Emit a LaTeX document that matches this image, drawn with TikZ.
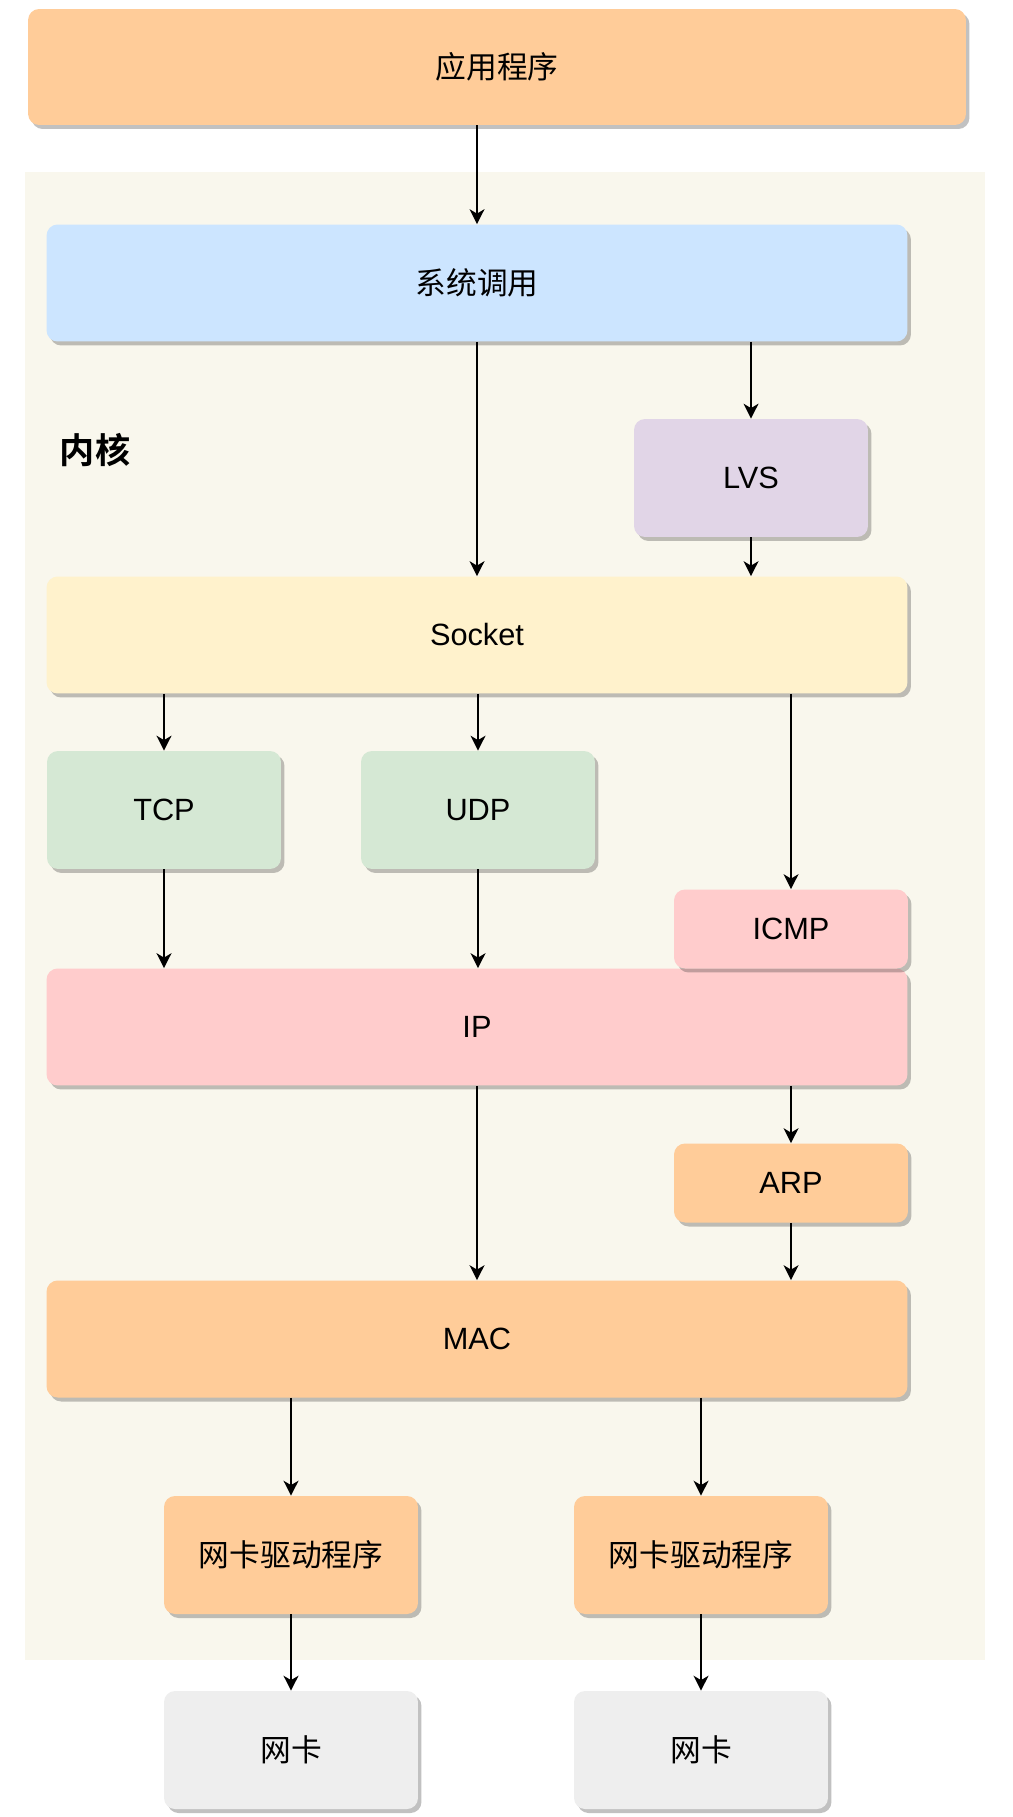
\documentclass[tikz,border=0pt]{standalone}
\usepackage{fontspec}
\setmainfont{Liberation Sans}
\newfontfamily\cjk{Noto Sans CJK SC}[BoldFont=Noto Sans CJK SC Bold]
\usepackage{tikz}
\usetikzlibrary{arrows.meta,shadows}

\definecolor{appOrange}{HTML}{FFCC99}
\definecolor{sysBlue}{HTML}{CCE5FF}
\definecolor{lvsPurple}{HTML}{E1D5E7}
\definecolor{sockYellow}{HTML}{FFF2CC}
\definecolor{protoGreen}{HTML}{D5E8D4}
\definecolor{ipPink}{HTML}{FFCCCC}
\definecolor{nicGray}{HTML}{EEEEEE}
\definecolor{kernelBg}{HTML}{F9F7ED}

\begin{document}
\begin{tikzpicture}[x=0.02cm, y=-0.02cm, >={Stealth[length=8.5pt,width=8.5pt,inset=2.5pt]},
    box/.style={rounded corners=0.22cm, fill=#1, inner sep=0pt,
        drop shadow={shadow xshift=0.07cm, shadow yshift=-0.08cm, opacity=0.3, fill=black!80},
        font=\fontsize{17.5}{21}\selectfont},
    layer/.style={minimum width=17.22cm, minimum height=2.34cm},
    unit/.style={minimum width=4.68cm, minimum height=2.36cm},
    flat/.style={minimum width=4.68cm, minimum height=1.58cm},
    drv/.style={minimum width=5.08cm, minimum height=2.36cm},
    arr/.style={->, line width=1pt}]
        \useasboundingbox (0,0) rectangle (1012,1817);

        % --- Nền vùng kernel ---
        \fill[kernelBg] (25,172) rectangle (985,1660);
        \node[font=\cjk\bfseries\fontsize{20}{24}\selectfont] (kernel) at (95,450) {内核};

        % --- Tầng trên ---
        \node[box=appOrange, minimum width=18.76cm, minimum height=2.32cm] (app) at (497,67) {\cjk 应用程序};
        \node[box=sysBlue, layer] (syscall) at (477,283) {\cjk 系统调用};
        \node[box=lvsPurple, unit] (lvs) at (751,478) {LVS};
        \node[box=sockYellow, layer] (socket) at (477,635) {Socket};

        % --- Giao thức ---
        \node[box=protoGreen, unit] (tcp) at (164,810) {TCP};
        \node[box=protoGreen, unit] (udp) at (478,810) {UDP};
        \node[box=ipPink, layer] (ip) at (477,1027) {IP};
        \node[box=ipPink, flat] (icmp) at (791,929) {ICMP};
        \node[box=appOrange, flat] (arp) at (791,1183) {ARP};
        \node[box=appOrange, layer] (mac) at (477,1339) {MAC};

        % --- Driver và card mạng ---
        \node[box=appOrange, drv] (drv1) at (291,1555) {\cjk 网卡驱动程序};
        \node[box=appOrange, drv] (drv2) at (701,1555) {\cjk 网卡驱动程序};
        \node[box=nicGray, drv] (nic1) at (291,1750) {\cjk 网卡};
        \node[box=nicGray, drv] (nic2) at (701,1750) {\cjk 网卡};

        % --- Mũi tên ---
        \draw[arr] (app.south -| syscall.north) -- (syscall.north);
        \draw[arr] (syscall.south) -- (socket.north);
        \draw[arr] (syscall.south -| lvs.north) -- (lvs.north);
        \draw[arr] (lvs.south) -- (lvs.south |- socket.north);
        \draw[arr] (socket.south -| tcp.north) -- (tcp.north);
        \draw[arr] (socket.south -| udp.north) -- (udp.north);
        \draw[arr] (socket.south -| icmp.north) -- (icmp.north);
        \draw[arr] (tcp.south) -- (tcp.south |- ip.north);
        \draw[arr] (udp.south) -- (udp.south |- ip.north);
        \draw[arr] (ip.south) -- (mac.north);
        \draw[arr] (ip.south -| arp.north) -- (arp.north);
        \draw[arr] (arp.south) -- (arp.south |- mac.north);
        \draw[arr] (mac.south -| drv1.north) -- (drv1.north);
        \draw[arr] (mac.south -| drv2.north) -- (drv2.north);
        \draw[arr] (drv1.south) -- (nic1.north);
        \draw[arr] (drv2.south) -- (nic2.north);
    \end{tikzpicture}
\end{document}
